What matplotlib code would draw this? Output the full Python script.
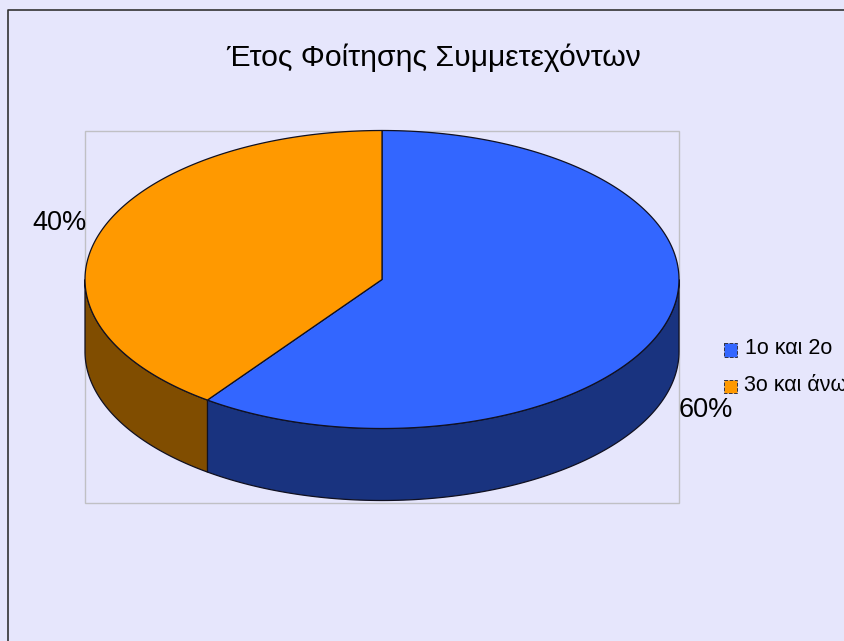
import numpy as np
import matplotlib
matplotlib.use('Agg')
import matplotlib.pyplot as plt
from matplotlib.patches import Polygon, Rectangle

plt.rcParams['font.family'] = ['Liberation Sans', 'DejaVu Sans']

title = 'Έτος Φοίτησης Συμμετεχόντων'
categories = ['1ο και 2ο', '3ο και άνω']
shares = [60, 40]
labels = ['60%', '40%']
colors = ['#3366ff', '#ff9900']
side_colors = ['#19337f', '#804d00']

bg = '#e6e6fc'

# pie geometry in pixels
cx, cy = 382, 279.5
rx, ry = 297, 149
depth = 72


def ellipse(a, dy=0):
    # a is degrees clockwise from 12 o'clock
    a = np.radians(a)
    return np.column_stack([cx + rx * np.sin(a), cy + dy - ry * np.cos(a)])


fig = plt.figure(figsize=(8.45, 6.41), dpi=100, facecolor=bg)
ax = fig.add_axes([0, 0, 1, 1])
ax.set_xlim(0, 845)
ax.set_ylim(641, 0)
ax.axis('off')

# outer frame runs off the right and bottom edges
ax.plot([8.5, 8.5, 845], [641, 9.5, 9.5], color='#333333', lw=1.2)
# plot area box
ax.add_patch(Rectangle((85.5, 130.5), 594, 372, fill=False, ec='#c0c0c4', lw=1))

edges = np.cumsum([0] + shares) * 360 / sum(shares)

# side walls, only the front half of the rim
for i in range(len(shares)):
    a0, a1 = max(edges[i], 90), min(edges[i + 1], 270)
    if a1 <= a0:
        continue
    a = np.linspace(a0, a1, 120)
    pts = np.vstack([ellipse(a), ellipse(a[::-1], depth)])
    ax.add_patch(Polygon(pts, closed=True, fc=side_colors[i], ec='#101020', lw=0.9))

# top faces
for i in range(len(shares)):
    a = np.linspace(edges[i], edges[i + 1], 200)
    pts = np.vstack([[cx, cy], ellipse(a)])
    ax.add_patch(Polygon(pts, closed=True, fc=colors[i], ec='#101020', lw=0.9))

ax.text(434, 58, title, fontsize=21.7, ha='center', va='center', color='black')
ax.text(706, 410, labels[0], fontsize=19.5, ha='center', va='center', color='black')
ax.text(60, 223, labels[1], fontsize=19.5, ha='center', va='center', color='black')

# legend, the second entry runs off the right edge like the original
legend_y = [349.5, 386]
text_y = [349, 385.5]
text_x = [745, 744]
for i in range(len(categories)):
    ax.add_patch(Rectangle((724, legend_y[i] - 6.5), 13.5, 13.5, fc=colors[i], ec='#333344', lw=0.7, ls='--'))
    ax.text(text_x[i], text_y[i], categories[i], fontsize=15.5, ha='left', va='center', color='black')

fig.savefig('out.png', dpi=100, facecolor=bg)
